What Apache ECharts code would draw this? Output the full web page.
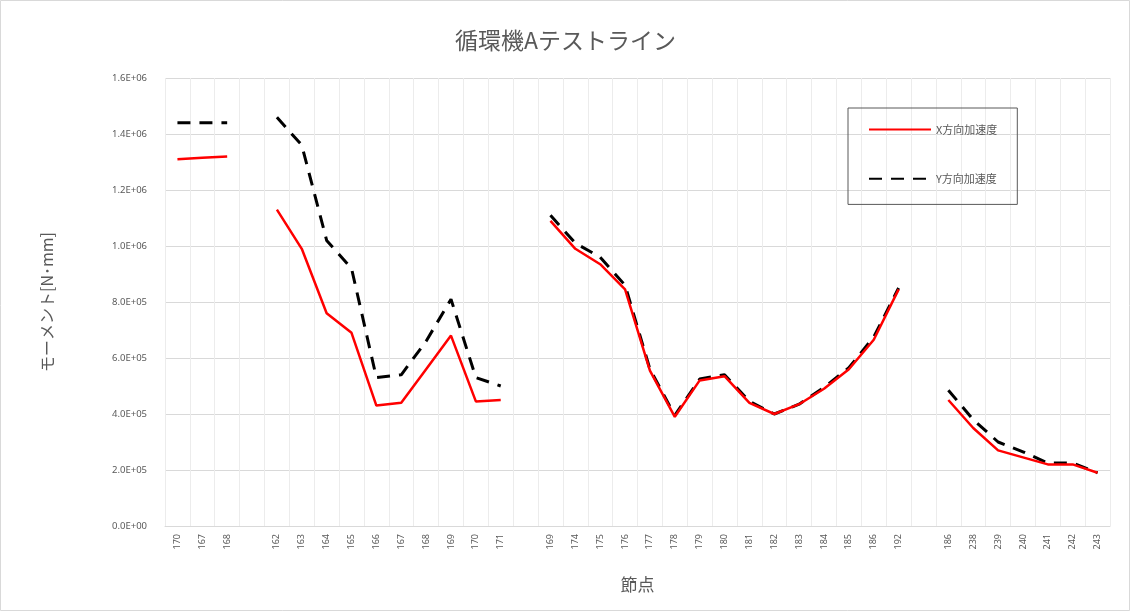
<!DOCTYPE html>
<html><head><meta charset="utf-8">
<script src="https://cdn.jsdelivr.net/npm/echarts@6/dist/echarts.min.js"></script>
<style>html,body{margin:0;padding:0;background:#fff}#c{width:1131px;height:612px}</style>
</head><body><div id="c"></div>
<script>
const categories = ['170','167','168','', '162','163','164','165','166','167','168','169','170','171','', '169','174','175','176','177','178','179','180','181','182','183','184','185','186','192','', '186','238','239','240','241','242','243'];
const xSeries = [1310000,1315000,1320000,null, 1130000,990000,760000,690000,430000,440000,560000,680000,445000,450000,null, 1090000,990000,935000,845000,555000,390000,520000,535000,440000,400000,435000,490000,560000,665000,845000,null, 450000,350000,270000,245000,220000,220000,190000];
const ySeries = [1440000,1440000,1440000,null, 1460000,1360000,1020000,920000,530000,540000,660000,810000,530000,500000,null, 1110000,1010000,960000,860000,560000,395000,525000,540000,445000,400000,435000,495000,565000,675000,850000,null, 485000,380000,300000,265000,225000,225000,190000];
const yTicks = {min:0, max:1600000, interval:200000};
const seriesNames = ['X方向加速度','Y方向加速度'];

function fmt(v){
  if(v===0) return '0.0E+00';
  const e = Math.floor(Math.log10(Math.abs(v)) + 1e-9);
  const m = v/Math.pow(10,e);
  return m.toFixed(1)+'E+'+(e<10?'0':'')+e;
}
const chart = echarts.init(document.getElementById('c'));
chart.setOption({
  backgroundColor:'#fff',
  title:{text:'循環機Aテストライン', left:'center', top:24, textStyle:{fontFamily:'Noto Sans CJK JP', fontSize:23, fontWeight:'normal', color:'#595959'}},
  grid:{left:165, right:21, top:78, bottom:86},
  legend:{orient:'vertical', left:848, top:108, width:215, height:95, padding:[16,20,20,20], itemGap:38,
    itemWidth:62, itemHeight:14, borderColor:'#595959', borderWidth:1,
    itemStyle:{opacity:0},
    textStyle:{fontFamily:'Noto Sans CJK JP', fontSize:11, color:'#595959'}, data:seriesNames},
  xAxis:{type:'category', data:categories, boundaryGap:true,
    name:'節点', nameLocation:'middle', nameGap:50, nameTextStyle:{fontFamily:'Noto Sans CJK JP', fontSize:17, color:'#595959'},
    axisLine:{lineStyle:{color:'#d9d9d9'}}, axisTick:{show:false},
    axisLabel:{rotate:90, interval:0, fontSize:9, color:'#595959', fontFamily:'Noto Sans'},
    splitLine:{show:true, lineStyle:{color:'#ececec'}}},
  yAxis:{type:'value', min:yTicks.min, max:yTicks.max, interval:yTicks.interval,
    name:'モーメント[N･mm]', nameLocation:'middle', nameGap:110, nameTextStyle:{fontFamily:'Noto Sans CJK JP', fontSize:16, color:'#595959'},
    axisLine:{show:false}, axisTick:{show:false},
    axisLabel:{formatter:fmt, fontSize:9.5, color:'#595959', margin:18, fontFamily:'Noto Sans'},
    splitLine:{lineStyle:{color:'#d9d9d9'}}},
  series:[
    {name:seriesNames[0], type:'line', data:xSeries, symbol:'none', connectNulls:false,
      lineStyle:{color:'#ff0000', width:2.5}, itemStyle:{color:'#ff0000'}, z:3},
    {name:seriesNames[1], type:'line', data:ySeries, symbol:'none', connectNulls:false,
      lineStyle:{color:'#000', width:3, type:[13,9]}, itemStyle:{color:'#000'}, z:2}
  ],
  graphic:[{type:'rect', shape:{x:0.5,y:0.5,width:1129,height:610}, style:{fill:'none', stroke:'#d9d9d9', lineWidth:1}}]
});
</script></body></html>
